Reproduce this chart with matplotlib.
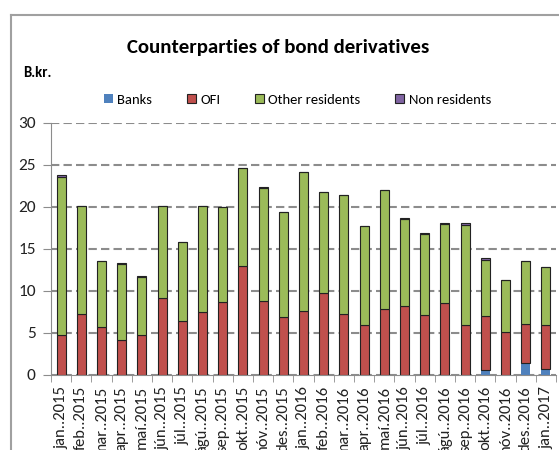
import numpy as np
import matplotlib
matplotlib.use('Agg')
import matplotlib.pyplot as plt
from matplotlib.lines import Line2D

plt.rcParams['font.family'] = ['Carlito', 'Liberation Sans Narrow', 'DejaVu Sans']

months = ['jan.', 'feb.', 'mar.', 'apr.', 'maí', 'jún.', 'júl.', 'ágú.', 'sep.', 'okt.', 'nóv.', 'des.']
labels = [m + '.2015' for m in months] + [m + '.2016' for m in months] + ['jan..2017']

banks = [0, 0, 0, 0, 0, 0, 0, 0, 0, 0, 0, 0,
         0, 0, 0, 0, 0, 0, 0, 0, 0, 0.56, 0, 1.4, 0.68]
ofi = [4.72, 7.28, 5.68, 4.12, 4.72, 9.12, 6.44, 7.48, 8.64, 12.96, 8.8, 6.88,
       7.6, 9.76, 7.24, 5.92, 7.84, 8.16, 7.12, 8.56, 5.96, 6.44, 5.16, 4.68, 5.28]
other_res = [18.84, 12.88, 7.84, 9.04, 6.92, 11.04, 9.44, 12.68, 11.4, 11.64, 13.44, 12.56,
             16.52, 12.03, 14.24, 11.76, 14.24, 10.4, 9.64, 9.44, 11.92, 6.72, 6.12, 7.48, 6.88]
non_res = [0.2, 0, 0, 0.14, 0.2, 0, 0, 0, 0, 0, 0.08, 0,
           0, 0.05, 0, 0, 0, 0.16, 0.12, 0.12, 0.16, 0.16, 0, 0, 0]

fig = plt.figure(figsize=(5.59, 4.5), dpi=100)
ax = fig.add_axes([0.0912, 0.1667, 0.9035, 0.56])

x = np.arange(len(labels))
w = 0.45
b = np.array(banks)
o = np.array(ofi)
g = np.array(other_res)
n = np.array(non_res)
edge = dict(edgecolor='#222222', linewidth=0.8)
ax.bar(x, b, w, color='#4F81BD', label='Banks', edgecolor='none')
ax.bar(x, o, w, bottom=b, color='#C0504D', label='OFI', **edge)
ax.bar(x, g, w, bottom=b + o, color='#9BBB59', label='Other residents', **edge)
ax.bar(x, n, w, bottom=b + o + g, color='#8064A2', label='Non residents', **edge)

ax.set_xlim(-0.5, len(labels) - 0.5)
ax.set_ylim(0, 30)
ax.set_yticks(range(0, 31, 5))
ax.yaxis.grid(True, linestyle=(0, (4, 2)), color='#8c8c8c', linewidth=1.5)
ax.set_axisbelow(True)

ax.set_xticks(x)
ax.set_xticklabels(labels, rotation=90, fontsize=12, color='#222222')
ax.tick_params(axis='x', length=0, pad=8)
ax.set_xticks(np.arange(-0.5, len(labels), 1), minor=True)
ax.tick_params(axis='x', which='minor', length=5, color='#8c8c8c', direction='out')
ax.tick_params(axis='y', labelsize=12.5, length=6, color='#8c8c8c', pad=5, labelcolor='#222222')

for s in ['top', 'right']:
    ax.spines[s].set_visible(False)
for s in ['left', 'bottom']:
    ax.spines[s].set_color('#8c8c8c')

fig.text(0.497, 0.895, 'Counterparties of bond derivatives', ha='center', va='center',
         fontsize=15, fontweight='bold')
fig.text(0.041, 0.838, 'B.kr.', ha='left', va='center', fontsize=10.5, fontweight='bold')

fig.legend(loc='center', bbox_to_anchor=(0.532, 0.778), ncol=4, frameon=False,
           fontsize=10.5, handlelength=0.6, handleheight=0.6, columnspacing=2.4,
           handletextpad=0.3, borderpad=0)

fig.add_artist(Line2D([0.0197, 0.0197], [0, 0.967], color='#a0a0a0', linewidth=1.5))
fig.add_artist(Line2D([0.0197, 1.0], [0.967, 0.967], color='#a0a0a0', linewidth=1.5))

fig.savefig('out.png', dpi=100)
